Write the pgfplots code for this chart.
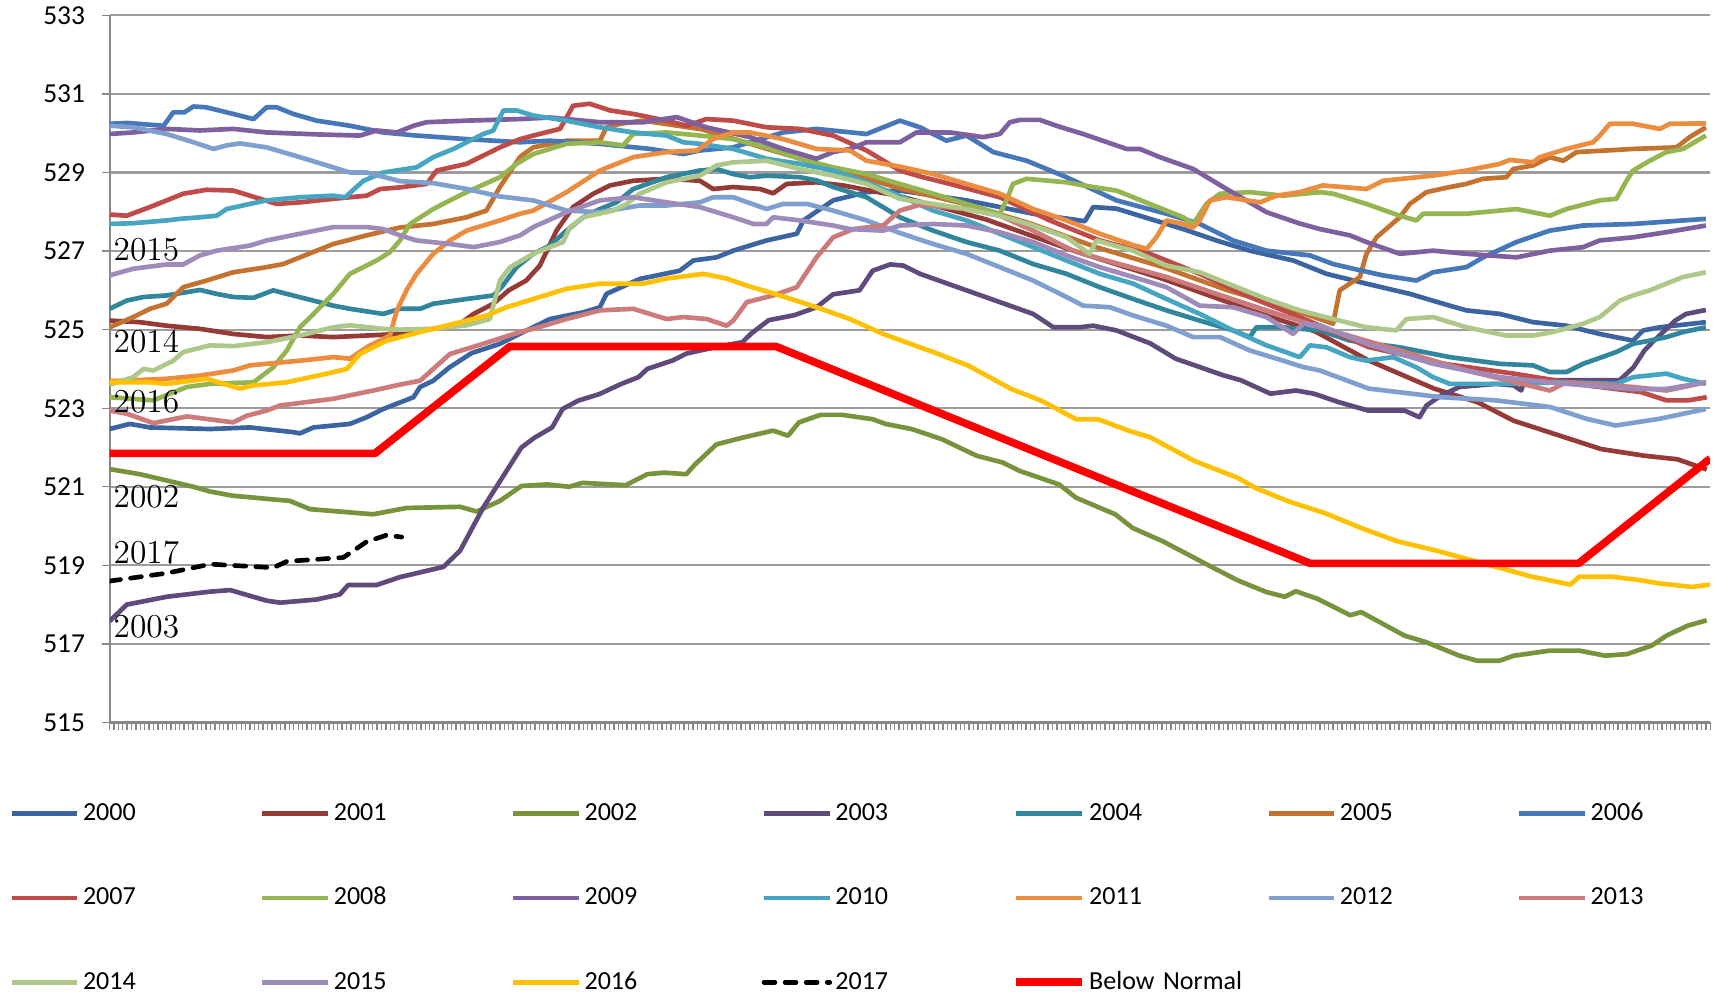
\documentclass[border=0pt]{standalone}
\usepackage{fontspec}
\setsansfont{Carlito}
\usepackage{pgfplots}
\pgfplotsset{compat=1.18}

\definecolor{c2000}{HTML}{3B64A0}
\definecolor{c2001}{HTML}{953A37}
\definecolor{c2002}{HTML}{77933C}
\definecolor{c2003}{HTML}{604A7B}
\definecolor{c2004}{HTML}{31859C}
\definecolor{c2005}{HTML}{C3722F}
\definecolor{c2006}{HTML}{4677B8}
\definecolor{c2007}{HTML}{BE4B48}
\definecolor{c2008}{HTML}{94B54F}
\definecolor{c2009}{HTML}{7E60A0}
\definecolor{c2010}{HTML}{46A5C1}
\definecolor{c2011}{HTML}{EB8C3E}
\definecolor{c2012}{HTML}{7F9FCF}
\definecolor{c2013}{HTML}{CD7B7A}
\definecolor{c2014}{HTML}{ADC888}
\definecolor{c2015}{HTML}{9E8BBA}
\definecolor{c2016}{HTML}{FFC000}
\definecolor{gridgray}{HTML}{9C9C9C}
\definecolor{axisgray}{HTML}{888888}

\begin{document}
\begin{tikzpicture}
\path[use as bounding box] (-40pt,-98.8pt) rectangle (587.2pt,263.6pt);
\begin{axis}[
    scale only axis,
    width=584pt, height=258pt,
    xmin=0, xmax=365,
    ymin=515, ymax=533,
    ytick={515,517,...,533},
    xtick={0,1,...,365},
    xticklabels={},
    axis x line*=bottom, axis y line*=left,
    axis line style={-, draw=axisgray, line width=0.75pt},
    tick align=outside,
    major tick length=2.8pt,
    tick style={draw=axisgray, line width=0.5pt},
    ymajorgrids,
    grid style={draw=gridgray, line width=0.75pt},
    tick label style={font=\sffamily\fontsize{10}{12}\selectfont},
    /pgf/number format/assume math mode=true,
    yticklabel style={inner sep=0pt, xshift=-6pt},
    every axis plot/.append style={line width=1.7pt, line join=round},
    legend columns=7,
    legend cell align=left,
    legend image code/.code={\draw[#1] (0pt,0pt) -- (24pt,0pt);},
    legend style={at={(0,0)}, anchor=north west, xshift=-36.8pt, yshift=-27.3pt,
        draw=none, inner xsep=0pt, inner ysep=0pt, row sep=19.4pt,
        font=\sffamily\fontsize{9.5}{11}\selectfont,
        nodes={inner sep=1.2pt, text width=63pt, align=left, text height=7pt, text depth=2pt},
        /tikz/every even column/.append style={column sep=0.4pt}},
]
% 2000
\addplot[c2000] coordinates {(0,522.47) (4.6,522.6) (9.2,522.51) (22.9,522.47) (32,522.51) (41.9,522.39) (43.4,522.36) (46.5,522.51) (54.8,522.6) (58.6,522.77) (62.4,522.98) (69.3,523.28) (70.8,523.54) (73.8,523.7) (77.5,524.04) (82.5,524.4) (89,524.64) (95.1,524.98) (100.4,525.27) (108,525.44) (111.8,525.57) (113.3,525.91) (120.9,526.29) (130,526.5) (133.1,526.76) (138.4,526.84) (142.2,527.01) (149.8,527.27) (156.7,527.44) (158.2,527.78) (165,528.29) (172.6,528.5) (180.2,528.54) (195.4,528.29) (210.6,527.95) (222.4,527.76) (224.3,528.12) (229.6,528.08) (233.4,527.95) (244.8,527.56) (252.4,527.27) (260,527.01) (269.9,526.76) (277.5,526.42) (286.6,526.17) (296.5,525.91) (305.6,525.61) (309.4,525.49) (317,525.4) (324.6,525.19) (332.2,525.1) (339.8,524.89) (347.4,524.72) (349.7,524.98) (353.5,525.06) (364,525.19)};
\addlegendentry{2000}
% 2001
\addplot[c2001] coordinates {(0,525.23) (6.9,525.19) (13,525.1) (20.6,525.02) (28.2,524.89) (35.8,524.81) (43.4,524.85) (51,524.81) (58.6,524.85) (66.2,524.89) (73.8,525.02) (79.9,525.15) (83,525.4) (87.5,525.66) (91,526.0) (95,526.25) (98.1,526.63) (101.9,527.52) (105.7,528.12) (110.3,528.46) (114.1,528.67) (119.4,528.79) (127,528.84) (134.6,528.79) (137.6,528.58) (142.2,528.63) (148.3,528.58) (151.3,528.47) (154.4,528.71) (161.2,528.75) (167.3,528.67) (180,528.4) (200,527.8) (220,527.0) (240,526.3) (260,525.5) (275,524.95) (287,524.22) (302,523.5) (312,523.15) (320.2,522.68) (328.5,522.38) (340.1,521.96) (350,521.79) (357.5,521.7) (364.2,521.44)};
\addlegendentry{2001}
% 2002
\addplot[c2002] coordinates {(0,521.45) (6.9,521.32) (19.1,521.0) (22.9,520.88) (28.2,520.77) (41.1,520.64) (45.7,520.43) (60.1,520.3) (67.7,520.46) (79.9,520.49) (83.7,520.37) (89,520.64) (93.9,521.02) (99.9,521.06) (104.8,521.0) (107.8,521.1) (117.7,521.04) (122.6,521.32) (126.5,521.36) (131.5,521.32) (133.5,521.57) (138.4,522.08) (144.3,522.25) (151.3,522.43) (154.7,522.3) (157.2,522.64) (162.1,522.83) (167.1,522.83) (174,522.72) (176.9,522.6) (182.9,522.47) (189.8,522.21) (197.7,521.79) (203.6,521.62) (207.6,521.4) (216.5,521.06) (220.4,520.72) (229.3,520.3) (233.3,519.95) (240.2,519.61) (250.6,519.0) (257.2,518.62) (263.8,518.32) (268,518.2) (270.5,518.34) (275.4,518.15) (282.9,517.73) (285.4,517.81) (295.3,517.21) (300.3,517.04) (307.8,516.7) (311.9,516.57) (316.9,516.57) (320.2,516.7) (328.5,516.83) (335.1,516.83) (341,516.7) (346,516.74) (351.7,516.96) (355,517.21) (360,517.47) (364.2,517.6)};
\addlegendentry{2002}
% 2003
\addplot[c2003] coordinates {(0,517.58) (3.9,518.0) (13,518.2) (22.9,518.33) (27.5,518.37) (35.8,518.1) (38.9,518.05) (47.2,518.13) (52.5,518.26) (54.4,518.5) (60.9,518.5) (66.2,518.7) (76.1,518.96) (79.9,519.37) (85.2,520.47) (91,521.49) (93.9,522.0) (96.9,522.25) (100.9,522.51) (103.3,522.98) (106.8,523.19) (111.7,523.36) (116.7,523.62) (120.6,523.79) (122.6,524.0) (128.5,524.22) (131.5,524.39) (138.4,524.56) (144.3,524.68) (146.3,524.9) (150.3,525.24) (156.2,525.37) (161.2,525.57) (165,525.9) (171,526.0) (174,526.5) (178,526.66) (181,526.63) (184.8,526.42) (195.4,526.0) (210.6,525.4) (215.2,525.06) (221.2,525.06) (224.3,525.1) (229.6,524.98) (237.3,524.65) (243.1,524.26) (253.9,523.84) (258,523.71) (264.7,523.37) (270.5,523.45) (274.6,523.37) (280.4,523.15) (287,522.94) (295.3,522.94) (298.7,522.77) (300.3,523.07) (303.6,523.32) (307.8,523.54) (316.1,523.62) (320.2,523.58) (321.9,523.45) (322.7,523.71) (344.3,523.71) (347.5,524.04) (350,524.47) (352,524.7) (357,525.23) (359.5,525.4) (364,525.5)};
\addlegendentry{2003}
% 2004
\addplot[c2004] coordinates {(0,525.53) (3.9,525.74) (7.7,525.83) (13,525.87) (20.6,526.01) (24.4,525.91) (28.2,525.83) (32.8,525.81) (37.3,526.0) (40.4,525.91) (45,525.78) (51,525.61) (54.8,525.53) (62.4,525.4) (66.2,525.53) (70.8,525.53) (73.8,525.66) (81.4,525.78) (87.5,525.87) (89.5,526.1) (92.8,526.59) (96.6,526.93) (100.4,527.14) (104.2,527.52) (108,527.86) (111.8,528.07) (115.6,528.24) (119.4,528.58) (127,528.88) (134.6,529.05) (138.4,529.09) (142.2,528.96) (146,528.88) (149.8,528.92) (157.4,528.88) (161.2,528.8) (165,528.63) (172.6,528.37) (180.2,527.86) (187.8,527.52) (195.4,527.23) (203,527.01) (210.6,526.67) (218.2,526.42) (225.8,526.08) (233.4,525.78) (241,525.49) (248.6,525.23) (256.2,524.98) (260,524.81) (261.5,525.06) (267.6,525.06) (276,524.98) (282.8,524.72) (294.2,524.55) (305.6,524.3) (317,524.13) (324.6,524.09) (328.4,523.92) (332.2,523.92) (336,524.13) (343.6,524.43) (347.4,524.64) (351.2,524.72) (355,524.81) (358.8,524.94) (364,525.06)};
\addlegendentry{2004}
% 2005
\addplot[c2005] coordinates {(0,525.06) (5.4,525.32) (9.2,525.53) (13,525.66) (16.8,526.08) (22.1,526.25) (28.2,526.46) (35.8,526.59) (39.6,526.67) (43.4,526.84) (51,527.18) (58.6,527.4) (66.2,527.6) (73.8,527.69) (81.4,527.86) (85.9,528.03) (89,528.63) (93.6,529.4) (96.6,529.64) (104.2,529.81) (111.8,529.81) (113.3,530.15) (116.4,530.24) (121.7,530.32) (135,530.1) (150,529.6) (165,529.1) (180,528.6) (195,528.2) (210,527.7) (225,527.1) (240,526.6) (255,526.0) (270,525.5) (279,525.15) (280.5,526.0) (282.8,526.17) (285.1,526.34) (286.6,526.93) (288.9,527.35) (294.2,527.86) (296.5,528.2) (300.3,528.5) (305.6,528.63) (309.4,528.71) (313.2,528.84) (318.5,528.88) (320.1,529.09) (324.6,529.18) (328.4,529.39) (331.5,529.3) (334.5,529.52) (341.3,529.56) (347.4,529.6) (357.3,529.64) (360.3,529.9) (364,530.15)};
\addlegendentry{2005}
% 2006
\addplot[c2006] coordinates {(0,530.24) (4,530.26) (12.3,530.19) (14.5,530.53) (17,530.53) (19.1,530.68) (22,530.66) (28.2,530.49) (32.8,530.36) (35.8,530.66) (38.1,530.66) (41.9,530.49) (47.2,530.32) (54.8,530.19) (62.4,530.02) (70,529.94) (81.4,529.85) (93.6,529.77) (100.4,529.81) (111.8,529.73) (123.2,529.6) (130.8,529.47) (134.6,529.56) (142.2,529.64) (153.6,530.02) (161.2,530.11) (172.6,529.98) (180.2,530.32) (184.8,530.15) (190.8,529.81) (195.4,529.94) (201.5,529.52) (209.1,529.3) (218.2,528.88) (229.6,528.29) (241,527.95) (248.6,527.69) (256.2,527.27) (263.8,527.01) (273.7,526.89) (279,526.67) (283.6,526.55) (290.4,526.38) (298,526.25) (301.8,526.46) (309.4,526.59) (313.2,526.84) (320.8,527.23) (328.4,527.52) (336,527.65) (347.4,527.69) (364,527.82)};
\addlegendentry{2006}
% 2007
\addplot[c2007] coordinates {(0,527.93) (3.9,527.9) (9.2,528.12) (16.8,528.46) (22.1,528.56) (28.2,528.54) (32,528.41) (38.1,528.2) (43.4,528.24) (51,528.33) (58.6,528.41) (61.7,528.58) (66.2,528.62) (72.3,528.71) (74.6,529.05) (81.4,529.22) (89,529.64) (93.6,529.85) (96.6,529.94) (102.7,530.11) (105.7,530.7) (109.5,530.75) (114.1,530.58) (119.4,530.49) (127,530.32) (131.6,530.19) (136.1,530.36) (142.2,530.32) (149.8,530.15) (157.4,530.11) (165,529.94) (172.6,529.56) (180.2,529.05) (184.8,528.9) (191.6,528.71) (203,528.37) (214.4,527.78) (225.8,527.27) (237.2,526.93) (248.6,526.42) (260,525.83) (271.4,525.32) (276,525.1) (287,524.56) (303.6,524.14) (320.2,523.88) (336.8,523.58) (349.2,523.41) (355,523.2) (360,523.2) (364.2,523.28)};
\addlegendentry{2007}
% 2008
\addplot[c2008] coordinates {(0,523.28) (10,523.2) (17.6,523.54) (22.9,523.62) (32.8,523.66) (37.3,524.04) (40.4,524.47) (43.4,525.06) (46.5,525.4) (51,525.91) (54.8,526.42) (60.9,526.76) (63.9,526.97) (66.2,527.27) (68.5,527.69) (73.8,528.07) (77.6,528.29) (81.4,528.5) (89,528.88) (92.8,529.22) (96.6,529.47) (104.2,529.73) (111.8,529.77) (117.1,529.69) (119.4,529.98) (127,530.02) (134.6,529.94) (142.2,529.85) (149.8,529.64) (157.4,529.35) (165,529.13) (172.6,528.96) (180.2,528.71) (187.8,528.46) (195.4,528.2) (203,527.95) (204.5,528.29) (206,528.71) (209.1,528.84) (218.2,528.75) (222,528.67) (229.6,528.54) (237.2,528.2) (244.8,527.86) (247.1,527.69) (250.1,528.2) (253.2,528.46) (260,528.5) (267.6,528.41) (276,528.5) (279,528.46) (286.6,528.2) (294.2,527.9) (298,527.78) (299.5,527.95) (309.4,527.95) (320.8,528.07) (328.4,527.9) (332.2,528.07) (339.8,528.29) (343.6,528.33) (345.9,528.79) (347.4,529.05) (351.2,529.3) (355,529.52) (358.8,529.6) (364,529.94)};
\addlegendentry{2008}
% 2009
\addplot[c2009] coordinates {(0,529.98) (5.4,530.02) (13,530.11) (20.6,530.07) (28.2,530.11) (35.8,530.02) (47.2,529.97) (57.1,529.94) (60.9,530.07) (65.5,530.02) (69.3,530.19) (72.3,530.28) (81.4,530.32) (93.6,530.36) (100.4,530.4) (111.8,530.28) (121.7,530.28) (129.3,530.41) (136.1,530.15) (146,529.9) (153.6,529.6) (161.2,529.35) (165,529.52) (168.8,529.6) (172.6,529.77) (180.2,529.77) (184,530.02) (191.6,530.02) (199.2,529.9) (203,529.98) (205.3,530.28) (207.6,530.34) (212.1,530.34) (215.9,530.19) (222,529.98) (231.9,529.6) (234.9,529.6) (239.5,529.39) (247.1,529.09) (254.7,528.58) (263.8,527.99) (271.4,527.7) (276,527.56) (282.8,527.4) (286.6,527.23) (294.2,526.93) (301.8,527.01) (309.4,526.93) (320.8,526.84) (328.4,527.01) (336,527.1) (339.8,527.27) (347.4,527.35) (355,527.48) (364,527.65)};
\addlegendentry{2009}
% 2010
\addplot[c2010] coordinates {(0,527.69) (5.4,527.71) (13,527.78) (16,527.82) (20.6,527.86) (24.4,527.9) (26.7,528.07) (32,528.2) (35.8,528.29) (43.4,528.37) (51,528.41) (53.7,528.37) (57.9,528.79) (62.4,529.0) (70,529.13) (73.8,529.39) (78.4,529.6) (85.2,529.98) (87.5,530.07) (89.8,530.58) (92.8,530.58) (96.6,530.45) (104.2,530.32) (111.8,530.15) (119.4,530.02) (127,529.94) (130.8,529.77) (134.6,529.73) (142.2,529.6) (149.8,529.35) (157.4,529.22) (165,529.05) (172.6,528.75) (180.2,528.4) (187.8,528.03) (195.4,527.78) (203,527.44) (210.6,527.1) (218.2,526.76) (225.8,526.42) (233.4,526.17) (241,525.78) (248.6,525.4) (256.2,524.98) (263.8,524.6) (271.4,524.3) (273.7,524.6) (277.5,524.55) (282.8,524.3) (286.6,524.21) (292.7,524.3) (298,524.04) (301.8,523.79) (305.6,523.62) (317,523.62) (332.2,523.66) (343.6,523.62) (347.4,523.79) (355,523.88) (358.8,523.75) (364,523.62)};
\addlegendentry{2010}
% 2011
\addplot[c2011] coordinates {(0,523.69) (5.4,523.71) (13,523.75) (20.6,523.83) (28.2,523.96) (32,524.09) (43.4,524.21) (51,524.3) (54.8,524.26) (58.6,524.55) (63.9,524.85) (65.5,525.49) (67.7,526.0) (70,526.42) (73.8,526.93) (77.6,527.27) (81.4,527.52) (89,527.78) (93.6,527.95) (96.6,528.03) (104.2,528.5) (111.8,529.05) (119.4,529.39) (127,529.52) (133.9,529.56) (137.6,529.85) (142.2,530.02) (146,530.02) (153.6,529.85) (161.2,529.6) (168.8,529.56) (172.6,529.3) (180.2,529.15) (187.8,528.96) (195.4,528.71) (203,528.46) (210.6,528.07) (218.2,527.78) (225.8,527.44) (233.4,527.15) (236.5,527.06) (238.7,527.35) (241,527.78) (244.8,527.69) (247.1,527.6) (248.6,527.78) (250.9,528.29) (254.7,528.37) (262.3,528.24) (266.1,528.41) (271.4,528.5) (276.7,528.67) (286.6,528.58) (290.4,528.79) (301.8,528.92) (309.4,529.05) (317,529.22) (319.3,529.32) (324.6,529.26) (326.1,529.39) (332.2,529.6) (338.3,529.77) (339.8,529.94) (342.1,530.24) (347.4,530.24) (353.5,530.11) (355.8,530.24) (364,530.25)};
\addlegendentry{2011}
% 2012
\addplot[c2012] coordinates {(0,530.19) (5.4,530.15) (13,529.98) (19.1,529.77) (23.7,529.6) (26.7,529.69) (29.7,529.74) (35.8,529.64) (43.4,529.39) (51,529.13) (54.8,529.0) (58.6,529.0) (66.2,528.78) (73.8,528.73) (81.4,528.58) (89,528.39) (96.6,528.29) (104.2,528.03) (111.8,527.99) (120.9,528.16) (127,528.16) (134.6,528.24) (137.6,528.37) (142.2,528.37) (149.8,528.07) (153.6,528.2) (159,528.2) (165,528.03) (172.6,527.78) (180.2,527.46) (187.8,527.18) (195.4,526.93) (203,526.59) (210.6,526.25) (218.2,525.83) (222,525.61) (228.1,525.57) (233.4,525.36) (241,525.1) (247.1,524.81) (253.2,524.81) (260,524.47) (267.6,524.21) (272.1,524.05) (276,523.96) (287.1,523.5) (303.6,523.28) (316.1,523.2) (328.5,523.03) (336.8,522.73) (343.4,522.56) (353.4,522.73) (364,522.98)};
\addlegendentry{2012}
% 2013
\addplot[c2013] coordinates {(0,522.94) (3.9,522.86) (10,522.62) (17.6,522.79) (28.2,522.64) (31.3,522.81) (35.8,522.94) (38.9,523.07) (51,523.24) (60.1,523.45) (66.2,523.6) (70.8,523.7) (77.6,524.38) (85.2,524.64) (93.6,524.94) (96.6,525.02) (104.2,525.27) (111.8,525.49) (119.4,525.53) (127,525.27) (130.8,525.32) (136.1,525.27) (140.7,525.1) (142.2,525.23) (145.3,525.7) (151.3,525.87) (156.7,526.08) (161.2,526.84) (165,527.35) (169.6,527.56) (176.4,527.65) (180.2,528.03) (184.8,528.18) (195.4,528.07) (203,527.9) (210.6,527.52) (219.7,527.01) (227.3,526.76) (241,526.34) (252.4,525.91) (263.8,525.49) (276,525.06) (294.2,524.47) (309.4,523.96) (328.4,523.45) (332.2,523.66) (347.4,523.54) (355,523.45) (364,523.66)};
\addlegendentry{2013}
% 2014
\addplot[c2014] coordinates {(0,523.6) (5.4,523.79) (7.7,524.0) (10,523.96) (14.5,524.21) (16.8,524.43) (22.9,524.6) (28.2,524.58) (35.8,524.68) (43.4,524.85) (51,525.06) (54.8,525.11) (62.4,525.02) (66.2,525.0) (73.8,525.02) (81.4,525.11) (86.7,525.27) (89,526.25) (91.3,526.59) (96.6,526.93) (103.4,527.23) (105,527.61) (108,527.86) (114.8,528.03) (117.9,528.2) (120.9,528.46) (127,528.75) (134.6,528.92) (138.4,529.18) (142.2,529.26) (149.8,529.3) (157.4,529.09) (165,528.92) (172.6,528.71) (180.2,528.33) (187.8,528.2) (195.4,528.07) (203,527.9) (210.6,527.65) (218.2,527.35) (223.5,526.93) (225,527.27) (233.4,527.01) (241,526.63) (248.6,526.46) (256.2,526.12) (263.8,525.78) (271.4,525.49) (279,525.27) (286.6,525.06) (293.4,524.98) (295.7,525.27) (301.8,525.32) (309.4,525.06) (318.5,524.85) (324.6,524.85) (329.2,524.94) (336,525.15) (339.8,525.32) (344.4,525.74) (347.4,525.87) (351.2,526.0) (355,526.17) (358.8,526.34) (364,526.46)};
\addlegendentry{2014}
% 2015
\addplot[c2015] coordinates {(0,526.38) (5.4,526.55) (13,526.66) (16.8,526.66) (20.6,526.89) (24.4,527.01) (32,527.14) (35.8,527.27) (43.4,527.44) (51,527.61) (58.6,527.61) (62.4,527.56) (66.2,527.4) (70,527.27) (77.6,527.18) (83,527.1) (89,527.23) (93.6,527.4) (96.6,527.61) (104.2,527.99) (111.8,528.29) (119.4,528.37) (127,528.24) (134.6,528.12) (142.2,527.86) (146.8,527.69) (149.8,527.69) (151.3,527.86) (157.4,527.78) (165,527.65) (168.8,527.56) (176.4,527.52) (180.2,527.65) (187.8,527.69) (195.4,527.65) (203,527.48) (210.6,527.23) (218.2,526.89) (225.8,526.59) (233.4,526.34) (241,526.08) (248.6,525.61) (256.2,525.57) (263.8,525.32) (269.9,524.89) (272.2,525.15) (276,525.11) (286.6,524.64) (301.8,524.13) (317,523.79) (332.2,523.62) (347.4,523.49) (355,523.49) (364,523.66)};
\addlegendentry{2015}
% 2016
\addplot[c2016] coordinates {(0,523.66) (9.2,523.66) (13,523.62) (22.1,523.75) (29.7,523.5) (32.8,523.58) (40.4,523.66) (49.5,523.88) (54.1,524.0) (57.1,524.38) (63.2,524.72) (70.8,524.94) (80,525.19) (86,525.36) (90.5,525.57) (96.6,525.78) (104.2,526.04) (111.8,526.17) (121.7,526.17) (127,526.3) (135.4,526.42) (140.7,526.3) (145.3,526.12) (152.9,525.87) (161.2,525.57) (168.8,525.27) (176.4,524.89) (184.8,524.55) (187.8,524.43) (195.7,524.09) (205.6,523.49) (212.5,523.19) (220.4,522.72) (225.4,522.72) (232.3,522.43) (237.3,522.26) (247.3,521.66) (257.2,521.23) (261.3,520.97) (268.8,520.63) (277.1,520.33) (285.4,519.95) (293.7,519.61) (302,519.39) (311.9,519.09) (324.4,518.71) (333.1,518.51) (335.1,518.71) (342.6,518.71) (349.2,518.62) (353.4,518.54) (360.8,518.45) (365,518.51)};
\addlegendentry{2016}
% 2017
\addplot[black, line cap=round, dash pattern=on 4pt off 3.7pt] coordinates {(0,518.6) (13,518.8) (23,519.03) (37.3,518.94) (40.4,519.1) (53.3,519.2) (58.6,519.6) (63.2,519.77) (66.6,519.72)};
\addlegendentry{2017}
% Below Normal
\addplot[red, line width=2.8pt] coordinates {(0,521.85) (60.5,521.85) (91.25,524.57) (152,524.57) (273.75,519.05) (335,519.05) (365,521.72)};
\addlegendentry{Below Normal}

\begin{scope}[every node/.style={anchor=base west, inner sep=0pt, font=\fontsize{12.2}{14}\selectfont}]
\node at (axis cs:0.8,526.76) {2015};
\node at (axis cs:0.8,524.43) {2014};
\node at (axis cs:0.8,522.9) {2016};
\node at (axis cs:0.8,520.47) {2002};
\node at (axis cs:0.8,519.04) {2017};
\node at (axis cs:0.8,517.17) {2003};
\end{scope}
\end{axis}
\end{tikzpicture}
\end{document}
